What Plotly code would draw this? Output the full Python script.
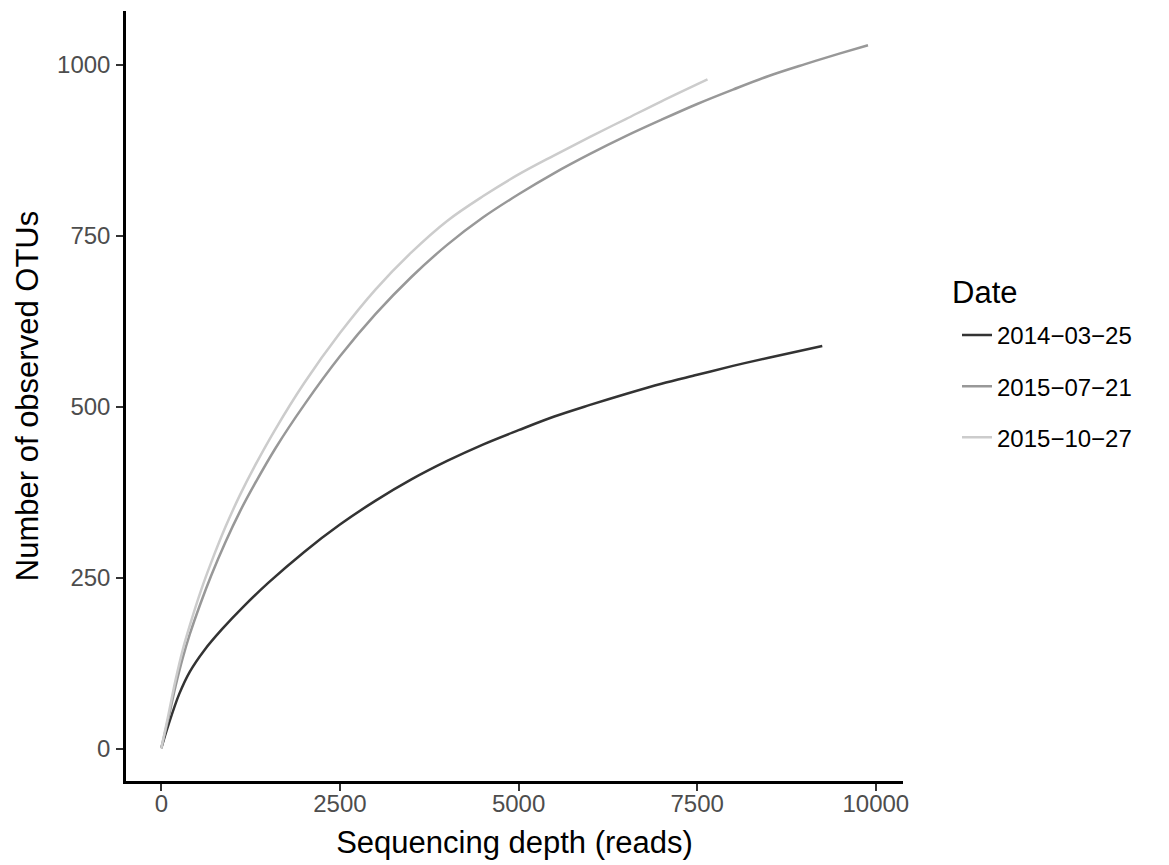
import plotly.graph_objects as go

# Data (sequencing depth vs observed OTUs)
dates = ["2014−03−25", "2015−07−21", "2015−10−27"]
colors = ["#333333", "#989898", "#CCCCCC"]

x_2014 = [0, 100, 250, 400, 600, 850, 1150, 1500, 2000, 2500, 3000, 3500, 4000, 4500,
          5000, 5500, 6000, 6500, 7000, 7500, 8000, 8500, 9250]
y_2014 = [1, 35, 80, 113, 144, 175, 208, 243, 288, 328, 363, 394, 421, 445,
          466, 486, 503, 519, 534, 547, 560, 572, 589]

x_2015a = [0, 100, 200, 300, 400, 550, 700, 900, 1100, 1300, 1600, 2000, 2500, 3000, 3500,
           4000, 4500, 5000, 5500, 6000, 6500, 7000, 7500, 8000, 8500, 9000, 9500, 9890]
y_2015a = [1, 45, 92, 133, 168, 213, 254, 303, 347, 386, 440, 503, 574, 636, 690,
           737, 777, 811, 842, 870, 896, 920, 943, 964, 984, 1001, 1017, 1029]

x_2015b = [0, 100, 200, 300, 400, 550, 700, 900, 1100, 1300, 1600, 2000, 2500, 3000, 3500,
           4000, 4500, 5000, 5500, 6000, 6500, 7000, 7644]
y_2015b = [1, 50, 101, 145, 181, 230, 273, 325, 371, 412, 468, 535, 608, 672, 726,
           772, 808, 840, 868, 895, 921, 947, 979]

series_x = [x_2014, x_2015a, x_2015b]
series_y = [y_2014, y_2015a, y_2015b]

x_ticks = [0, 2500, 5000, 7500, 10000]
y_ticks = [0, 250, 500, 750, 1000]

FONT = "Liberation Sans, Arial, Helvetica, sans-serif"

fig = go.Figure()
for name, col, xs, ys in zip(dates, colors, series_x, series_y):
    fig.add_trace(go.Scatter(
        x=xs, y=ys, mode="lines", name=name, legendgroup=name,
        line=dict(color=col, width=2.5, shape="spline", smoothing=1.0),
    ))

axis_common = dict(
    showgrid=False, zeroline=False, showline=True, linecolor="black", linewidth=2.5,
    ticks="outside", ticklen=7, tickwidth=2, tickcolor="#333333", automargin=False,
    tickfont=dict(family=FONT, size=24, color="#4D4D4D"),
)

fig.update_layout(
    width=1161, height=857,
    paper_bgcolor="white", plot_bgcolor="white",
    margin=dict(l=118, r=266, t=3, b=84),
    font=dict(family=FONT, color="black"),
    xaxis=dict(range=[-494, 10380], tickvals=x_ticks, ticktext=[str(v) for v in x_ticks],
               title=dict(text="Sequencing depth (reads)", font=dict(size=31, family=FONT, color="black"), standoff=16),
               ticklabelstandoff=-8, **axis_common),
    yaxis=dict(range=[-47, 1079], tickvals=y_ticks, ticktext=[str(v) for v in y_ticks],
               title=dict(text="Number of observed OTUs", font=dict(size=31, family=FONT, color="black"), standoff=10),
               ticklabelstandoff=1, **axis_common),
    legend=dict(
        x=1.0695, y=0.608, xanchor="left", yanchor="top",
        font=dict(size=24, family=FONT, color="black"),
        traceorder="grouped", tracegroupgap=17,
        bgcolor="rgba(0,0,0,0)",
    ),
    annotations=[dict(
        text="Date", x=1.0605, y=0.635, xref="paper", yref="paper",
        xanchor="left", yanchor="middle", showarrow=False,
        font=dict(size=31, family=FONT, color="black"),
    )],
    showlegend=True,
)

fig.write_html("out.html")
